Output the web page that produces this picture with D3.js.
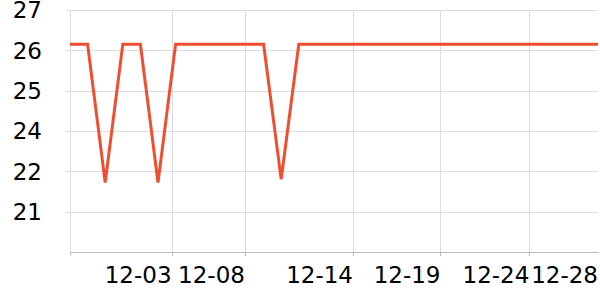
<!DOCTYPE html>
<html>
<head>
<meta charset="utf-8">
<title>Daily values</title>
<style type="text/css">
body{ margin: 0; background: #fff; }
text{ font-family: "DejaVu Sans", sans-serif; font-size: 23px; fill: #000; }
.grid line{ stroke: #dcdcdc; stroke-width: 1; shape-rendering: crispEdges; }
.xaxis path, .xaxis line{ stroke: #bdbdbd; stroke-width: 1; shape-rendering: crispEdges; }
</style>
<script type="text/javascript" src="https://cdn.jsdelivr.net/npm/d3@7/dist/d3.min.js"></script>
</head>
<body>
<script>
// one value per day, 12-01 .. 12-31
var days = ["12-01","12-02","12-03","12-04","12-05","12-06","12-07","12-08","12-09","12-10",
            "12-11","12-12","12-13","12-14","12-15","12-16","12-17","12-18","12-19","12-20",
            "12-21","12-22","12-23","12-24","12-25","12-26","12-27","12-28","12-29","12-30","12-31"];
var values = [26.15,26.15,21.72,26.15,26.15,21.72,26.15,26.15,26.15,26.15,
              26.15,26.15,21.8,26.15,26.15,26.15,26.15,26.15,26.15,26.15,
              26.15,26.15,26.15,26.15,26.15,26.15,26.15,26.15,26.15,26.15,26.15];

// tick labels as drawn on the original axes
var xTickLabels = ["12-03","12-08","12-14","12-19","12-24","12-28"];
var xTickIndex = [5.77, 9.94, 16.08, 21.05, 26.1, 30];
var yTickLabels = [27, 26, 25, 24, 22, 21];

const width = 600, height = 300,
      margin = {top: 10, right: 2, bottom: 48, left: 70},
      innerW = width - margin.left - margin.right,
      innerH = height - margin.top - margin.bottom;

const svg = d3.select("body").append("svg").attr("width", width).attr("height", height);
const g = svg.append("g").attr("transform", `translate(${margin.left},${margin.top})`);

const xScale = d3.scaleLinear().domain([0, days.length - 1]).range([0, innerW]);

// y axis uses evenly spaced slots for its labels (bottom slot is the baseline)
const yDomain = [20].concat(yTickLabels.slice().reverse());
const yScale = d3.scaleLinear()
    .domain(yDomain)
    .range(yDomain.map((d, i) => innerH - i * innerH / (yDomain.length - 1)));

// horizontal grid
g.append("g").attr("class", "grid")
  .selectAll("line").data(yTickLabels).enter().append("line")
  .attr("x1", -4).attr("x2", innerW)
  .attr("y1", d => Math.round(yScale(d)) + 0.5).attr("y2", d => Math.round(yScale(d)) + 0.5);

// vertical grid
g.append("g").attr("class", "grid")
  .selectAll("line").data([0].concat(xTickIndex.slice(0, -1))).enter().append("line")
  .attr("x1", d => Math.round(xScale(d)) + 0.5).attr("x2", d => Math.round(xScale(d)) + 0.5)
  .attr("y1", 0).attr("y2", innerH);

// y labels
g.append("g").selectAll("text").data(yTickLabels).enter().append("text")
  .attr("x", -28).attr("y", d => yScale(d)).attr("dy", "0.36em")
  .attr("text-anchor", "end").text(d => d);

// x axis
const xAxis = d3.axisBottom(xScale)
  .tickValues([0].concat(xTickIndex.slice(0, -1)))
  .tickSize(4).tickSizeOuter(0).tickFormat("");
g.append("g").attr("class", "xaxis").attr("transform", `translate(0,${innerH})`).call(xAxis);

g.append("g").selectAll("text").data(xTickLabels).enter().append("text")
  .attr("x", (d, i) => xScale(xTickIndex[i]))
  .attr("y", innerH + 31)
  .attr("text-anchor", "end").text(d => d);

// the series
const line = d3.line().x((d, i) => xScale(i)).y(d => yScale(d));
g.append("path").datum(values)
  .attr("d", line)
  .attr("fill", "none")
  .attr("stroke", "#f04e30")
  .attr("stroke-width", 3)
  .attr("stroke-linejoin", "miter");
</script>
</body>
</html>
